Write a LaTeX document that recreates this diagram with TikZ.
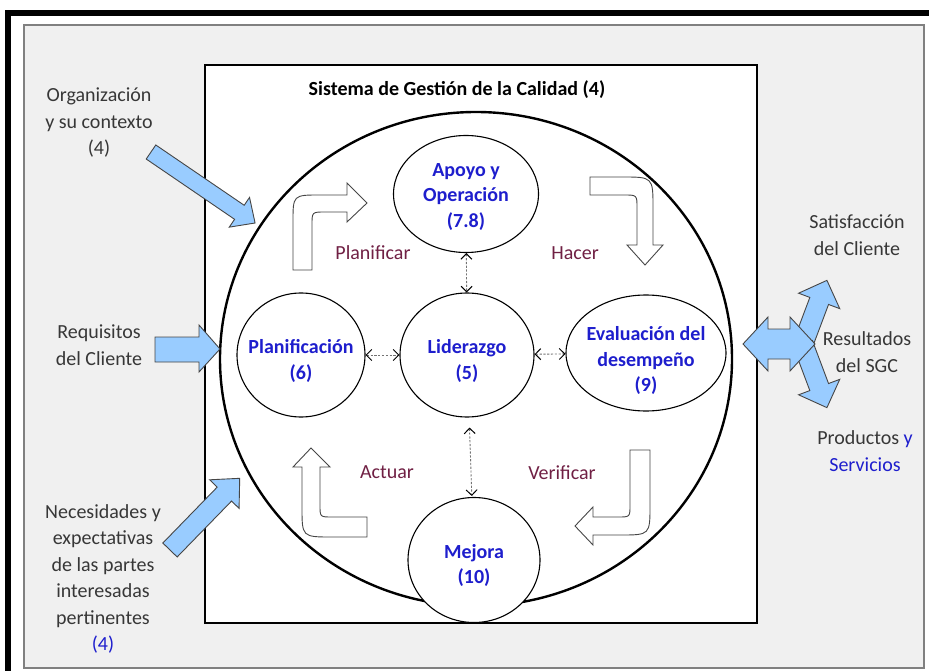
\documentclass[tikz,border=0pt]{standalone}
\usepackage{fontspec}
\setmainfont{Carlito}
\usetikzlibrary{arrows.meta,shapes.geometric}
\definecolor{panel}{RGB}{240,240,240}
\definecolor{txtgray}{RGB}{55,55,55}
\definecolor{lblue}{RGB}{30,30,205}
\definecolor{maroon}{RGB}{112,32,68}
\definecolor{arrfill}{RGB}{153,204,255}
\definecolor{arredge}{RGB}{70,70,70}
\newcommand\proctext[2]{\raisebox{-#1}[\height][\depth]{\begin{tabular}{@{}c@{}}#2\end{tabular}}}
\tikzset{
  sidetext/.style={align=center,text=txtgray,font=\fontsize{20}{26.5}\selectfont},
  stagetext/.style={text=maroon,font=\fontsize{20}{24}\selectfont},
  proc/.style={ellipse,draw=black,line width=1.1pt,fill=white,inner sep=-60pt,
    text=lblue,font=\bfseries\fontsize{20}{25.5}\selectfont},
  dasharrow/.style={dash pattern=on 2.2pt off 1.6pt,draw=black!55,line width=0.9pt,
    {Straight Barb[length=5.5pt,width=11pt,black,line width=1pt]}-{Straight Barb[length=5.5pt,width=11pt,black,line width=1pt]}},
  bluearr/.style={fill=arrfill,draw=arredge,line width=0.9pt,line join=miter},
  whitearr/.style={fill=white,draw=arredge,line width=0.9pt,line join=miter}
}
\begin{document}
\begin{tikzpicture}[x=1pt,y=-1pt]
\useasboundingbox (0,0) rectangle (929,671);
% outer frame and panel
\draw[line width=6pt] (8,13) rectangle (945,690);
\draw[fill=panel,draw=gray,line width=1.2pt] (24,25) rectangle (924,668);
% inner white system box
\draw[fill=white,draw=black,line width=1.2pt] (205,65) rectangle (757,623);
\node[font=\bfseries\fontsize{20}{24}\selectfont] (title) at (457,90) {Sistema de Gestión de la Calidad (4)};
% big circle
\node[ellipse,draw=black,line width=2.4pt,minimum width=512pt,minimum height=494pt,inner sep=0pt] (big) at (476,359) {};
% white bent arrows
\draw[whitearr] (312,270) -- (293,270) -- (293,222) .. controls (293,195) .. (320,195) -- (347,195) -- (347,183) -- (367,203) -- (347,222) -- (347,212) -- (325,212) .. controls (312,212) .. (312,225) -- cycle;
\draw[whitearr] (590,177) -- (622,177) .. controls (653,177) .. (653,208) -- (653,245) -- (663,245) -- (645,265) -- (627,245) -- (637,245) -- (637,208) .. controls (637,195) .. (624,195) -- (590,195) -- cycle;
\draw[whitearr] (630,450) -- (650,450) -- (650,505) .. controls (650,535) .. (620,535) -- (593,535) -- (593,545) -- (575,526) -- (593,507) -- (593,517) -- (618,517) .. controls (630,517) .. (630,505) -- cycle;
\draw[whitearr] (367,517) -- (367,537) -- (332,537) .. controls (302,537) .. (302,507) -- (302,467) -- (293,467) -- (311,448) -- (330,467) -- (320,467) -- (320,505) .. controls (320,517) .. (332,517) -- cycle;
% stage labels
\node[stagetext] (planificar) at (373,253) {Planificar};
\node[stagetext] (hacer) at (575,253) {Hacer};
\node[stagetext] (actuar) at (387,472) {Actuar};
\node[stagetext] (verificar) at (562,473) {Verificar};
% process ellipses
\node[proc,minimum width=145pt,minimum height=117pt] (apoyo) at (466,194) {\proctext{2.5pt}{Apoyo y\\Operación\\(7.8)}};
\node[proc,minimum width=128pt,minimum height=124pt] (plan) at (301,355) {\proctext{6.4pt}{Planificación\\(6)}};
\node[proc,minimum width=134pt,minimum height=124pt] (lider) at (467,355) {\proctext{6.4pt}{Liderazgo\\(5)}};
\node[proc,minimum width=160pt,minimum height=116pt] (eval) at (646,353) {\proctext{8pt}{Evaluación del\\desempeño\\(9)}};
\node[proc,minimum width=132pt,minimum height=125pt] (mejora) at (474,560) {\proctext{6pt}{Mejora\\(10)}};
% dashed connectors
\draw[dasharrow] (apoyo) -- (lider);
\draw[dasharrow] (plan) -- (lider);
\draw[dasharrow] (lider) -- (eval);
\draw[dasharrow,shorten <=10pt,shorten >=1pt] (lider) -- (mejora);
% left inputs
\node[sidetext] (org) at (99,123) {Organización\\y su contexto\\(4)};
\node[sidetext] (req) at (99,345) {Requisitos\\del Cliente};
\node[sidetext] (nec) at (103,579) {Necesidades y\\expectativas\\de las partes\\interesadas\\pertinentes\\{\color{lblue}(4)}};
\begin{scope}[shift={(151,152)},rotate=-34.3]
\draw[bluearr] (0,-8.5) -- (107,-8.5) -- (107,-18) -- (126,0) -- (107,18) -- (107,8.5) -- (0,8.5) -- cycle;
\end{scope}
\draw[bluearr] (155,337) -- (199,337) -- (199,325) -- (220,349) -- (199,372) -- (199,362) -- (155,362) -- cycle;
\begin{scope}[shift={(170,550)},rotate=45.8]
\draw[bluearr] (0,-10) -- (78,-10) -- (78,-20.5) -- (100,0) -- (78,20.5) -- (78,10) -- (0,10) -- cycle;
\end{scope}
% right outputs
\begin{scope}[shift={(803,344)},rotate=69.4]
\draw[bluearr] (0,-10) -- (46,-10) -- (46,-22) -- (68,0) -- (46,22) -- (46,10) -- (0,10) -- cycle;
\end{scope}
\begin{scope}[shift={(803,344)},rotate=-69.4]
\draw[bluearr] (0,-10) -- (46,-10) -- (46,-22) -- (68,0) -- (46,22) -- (46,10) -- (0,10) -- cycle;
\end{scope}
\draw[bluearr] (743,344) -- (768,317) -- (768,329) -- (790,329) -- (790,317) -- (815,344) -- (790,371) -- (790,359) -- (768,359) -- (768,371) -- cycle;
\node[sidetext] (satis) at (857,235) {Satisfacción\\del Cliente};
\node[sidetext] (res) at (867,352) {Resultados\\del SGC};
\node[sidetext] (prod) at (865,451) {Productos {\color{lblue}y}\\{\color{lblue}Servicios}};
\end{tikzpicture}
\end{document}
